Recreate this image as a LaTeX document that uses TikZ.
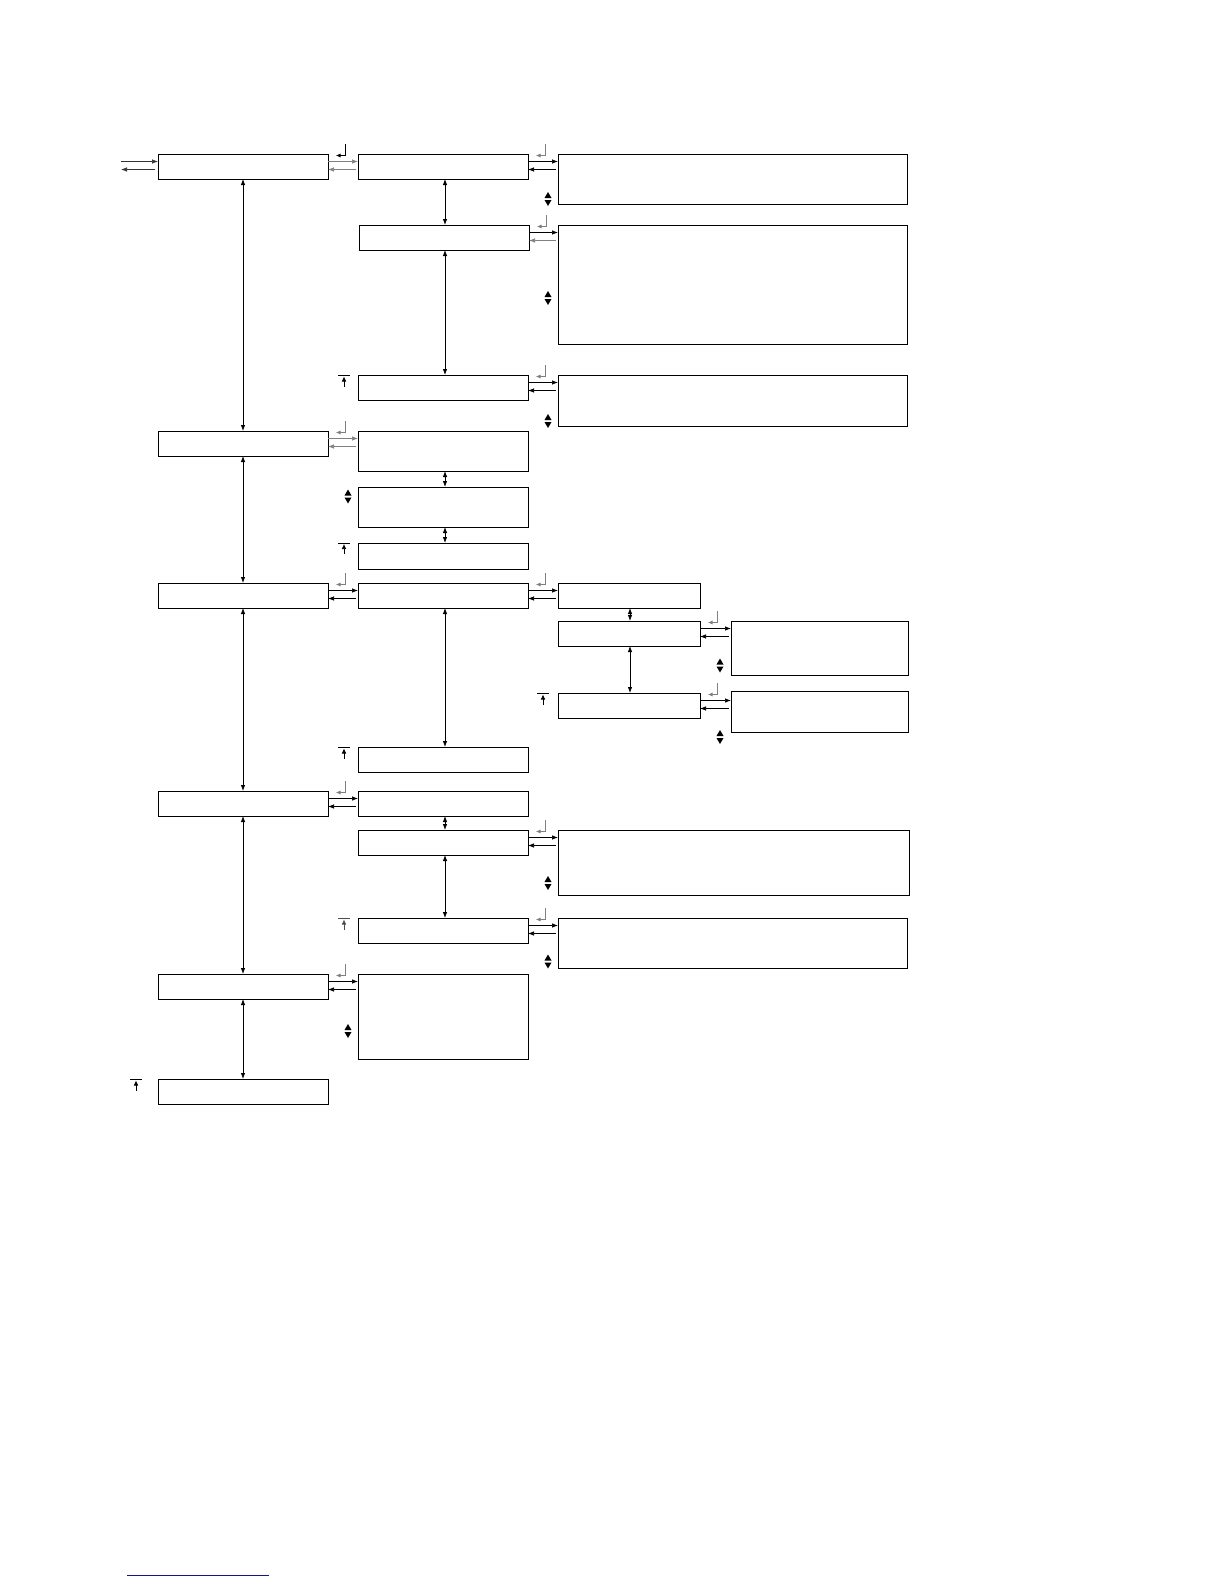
\documentclass[tikz,border=0pt]{standalone}
\usepackage{tikz}
\usetikzlibrary{arrows.meta,positioning,calc}

\definecolor{linkblue}{RGB}{20,20,140}

% forward and back arrows between two boxes, with the enter hook above
\newcommand{\linkpair}[5]{%
  \path ([yshift=-7.5pt]#1.north east) coordinate (fwd)
        ([yshift=-15.5pt]#1.north east) coordinate (bck);
  \draw[link,#3] (fwd) -- (fwd -| #2.west);
  \draw[link,#4] ([xshift=-2pt]bck -| #2.west) -- (bck);
  \draw[hookline,#5] ([xshift=17pt,yshift=10pt]#1.north east)
    -- ([xshift=17pt,yshift=-1.5pt]#1.north east)
    -- ([xshift=8pt,yshift=-1.5pt]#1.north east);
}
% scroll triangles
\newcommand{\updown}[2]{%
  \fill (#1-3.5,#2-1) -- (#1+3.5,#2-1) -- (#1,#2-7) -- cycle;
  \fill (#1-3.5,#2+1) -- (#1+3.5,#2+1) -- (#1,#2+7) -- cycle;
}
% back to top mark
\newcommand{\totop}[3][black]{%
  \draw[line width=0.6pt,#1] (#2-6,#3) -- (#2+6,#3);
  \draw[topline,#1] (#2,#3+11) -- (#2,#3+1);
}

\begin{document}
\begin{tikzpicture}[
    x=1pt, y=-1pt,
    box/.style={draw, line width=0.9pt, inner sep=0pt, outer sep=0pt, anchor=north west},
    link/.style={-{Latex[length=6pt,width=4.5pt]}, line width=0.7pt},
    both/.style={{Latex[length=6pt,width=4.5pt]}-{Latex[length=6pt,width=4.5pt]}, line width=0.8pt},
    hookline/.style={-{Latex[length=4.5pt,width=4pt]}, line width=0.6pt},
    topline/.style={-{Latex[length=5pt,width=4.5pt]}, line width=0.6pt},
    faint/.style={black!50}
]
\useasboundingbox (0,0) rectangle (1224,1584);

% first column
\node[box, minimum width=170pt, minimum height=25pt] (menu1) at (158,154) {};
\node[box, minimum width=170pt, minimum height=25pt] (menu2) at (158,431) {};
\node[box, minimum width=170pt, minimum height=25pt] (menu3) at (158,583) {};
\node[box, minimum width=170pt, minimum height=25pt] (menu4) at (158,791) {};
\node[box, minimum width=170pt, minimum height=25pt] (menu5) at (158,974) {};
\node[box, minimum width=170pt, minimum height=25pt] (menu6) at (158,1079) {};

% second column
\node[box, minimum width=170pt, minimum height=25pt] (sub1) at (358,154) {};
\node[box, minimum width=170pt, minimum height=25pt] (sub2) at (359,225) {};
\node[box, minimum width=170pt, minimum height=25pt] (sub3) at (358,375) {};
\node[box, minimum width=170pt, minimum height=40pt] (sub4) at (358,431) {};
\node[box, minimum width=170pt, minimum height=40pt] (sub5) at (358,487) {};
\node[box, minimum width=170pt, minimum height=26pt] (sub6) at (358,543) {};
\node[box, minimum width=170pt, minimum height=25pt] (sub7) at (358,583) {};
\node[box, minimum width=170pt, minimum height=25pt] (sub8) at (358,747) {};
\node[box, minimum width=170pt, minimum height=25pt] (sub9) at (358,791) {};
\node[box, minimum width=170pt, minimum height=25pt] (sub10) at (358,830) {};
\node[box, minimum width=170pt, minimum height=25pt] (sub11) at (358,918) {};
\node[box, minimum width=170pt, minimum height=85pt] (sub12) at (358,974) {};

% third column
\node[box, minimum width=349pt, minimum height=50pt] (val1) at (558,154) {};
\node[box, minimum width=349pt, minimum height=119pt] (val2) at (558,225) {};
\node[box, minimum width=349pt, minimum height=51pt] (val3) at (558,375) {};
\node[box, minimum width=351pt, minimum height=65pt] (val4) at (558,830) {};
\node[box, minimum width=349pt, minimum height=50pt] (val5) at (558,918) {};
\node[box, minimum width=142pt, minimum height=25pt] (opt1) at (558,583) {};
\node[box, minimum width=142pt, minimum height=25pt] (opt2) at (558,621) {};
\node[box, minimum width=142pt, minimum height=25pt] (opt3) at (558,693) {};

% fourth column
\node[box, minimum width=177pt, minimum height=54pt] (set1) at (731,621) {};
\node[box, minimum width=177pt, minimum height=41pt] (set2) at (731,691) {};

% way in and out
\coordinate (entry) at (121,161.5);
\coordinate (exit) at (121,169.5);
\draw[link, black!80] (entry) -- ([yshift=-7.5pt]menu1.north west);
\draw[link, black!80] ([xshift=-3pt,yshift=-15.5pt]menu1.north west) -- (exit);

% up and down
\draw[both] (menu1.south) -- (menu2.north);
\draw[both] (menu2.south) -- (menu3.north);
\draw[both] (menu3.south) -- (menu4.north);
\draw[both] (menu4.south) -- (menu5.north);
\draw[both] (menu5.south) -- (menu6.north);
\draw[both] ([xshift=2pt]sub1.south) -- ([xshift=1pt]sub2.north);
\draw[both] ([xshift=1pt]sub2.south) -- ([xshift=2pt]sub3.north);
\draw[both] ([xshift=2pt]sub4.south) -- ([xshift=2pt]sub5.north);
\draw[both] ([xshift=2pt]sub5.south) -- ([xshift=2pt]sub6.north);
\draw[both] ([xshift=2pt]sub7.south) -- ([xshift=2pt]sub8.north);
\draw[both] ([xshift=2pt]sub9.south) -- ([xshift=2pt]sub10.north);
\draw[both] ([xshift=2pt]sub10.south) -- ([xshift=2pt]sub11.north);
\draw[both] ([xshift=1pt]opt1.south) -- ([xshift=1pt]opt2.north);
\draw[both] ([xshift=1pt]opt2.south) -- ([xshift=1pt]opt3.north);

% in and back
\linkpair{menu1}{sub1}{faint}{faint}{black}
\linkpair{sub1}{val1}{black}{black}{faint}
\linkpair{sub2}{val2}{black}{faint}{faint}
\linkpair{sub3}{val3}{black}{black}{faint}
\linkpair{menu2}{sub4}{faint}{faint}{faint}
\linkpair{menu3}{sub7}{black}{black}{faint}
\linkpair{sub7}{opt1}{black}{black}{faint}
\linkpair{opt2}{set1}{black}{black}{faint}
\linkpair{opt3}{set2}{black}{black}{faint}
\linkpair{menu4}{sub9}{black}{black}{faint}
\linkpair{sub10}{val4}{black}{black}{faint}
\linkpair{sub11}{val5}{black}{black}{faint}
\linkpair{menu5}{sub12}{black}{black}{faint}

% scroll marks
\updown{548}{199}
\updown{548}{298}
\updown{548}{421}
\updown{348}{496.5}
\updown{720}{665.5}
\updown{720}{737}
\updown{548}{883}
\updown{548}{961.5}
\updown{348}{1031}

% top marks
\totop{344}{375.5}
\totop{344}{543}
\totop{543}{693.5}
\totop{344}{747.5}
\totop[black!70]{344}{918.5}
\totop{136}{1079.5}

% link line at the foot
\draw[linkblue, line width=0.9pt] (127,1575) -- (269,1575);
\end{tikzpicture}
\end{document}
